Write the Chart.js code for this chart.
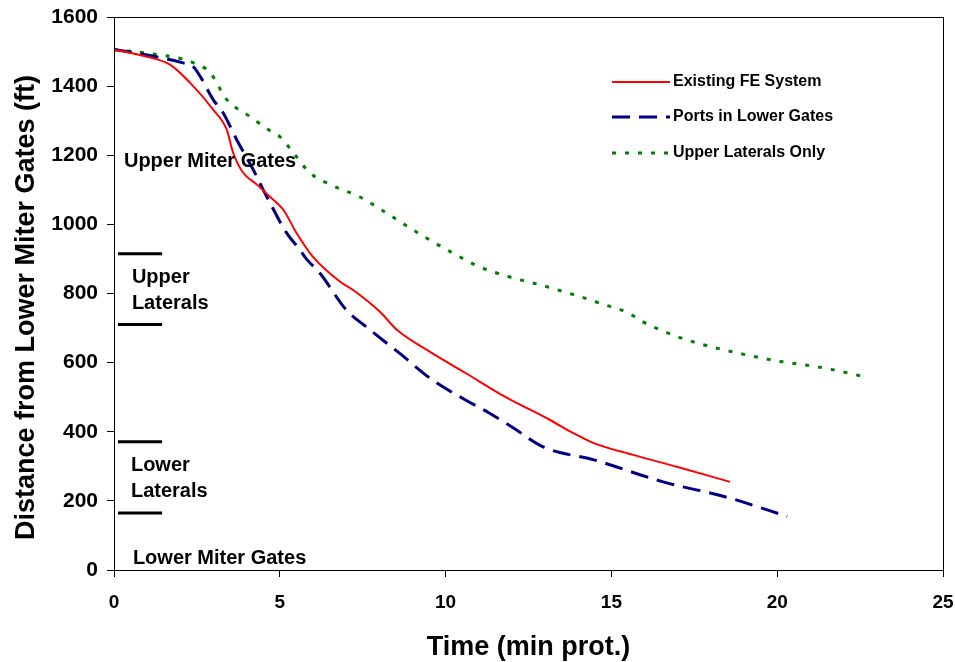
<!DOCTYPE html>
<html>
<head>
<meta charset="utf-8">
<script src="https://cdn.jsdelivr.net/npm/chart.js@4.4.1/dist/chart.umd.min.js"></script>
<style>
  html, body { margin: 0; padding: 0; background: #fff; }
  #wrap { width: 955px; height: 662px; }
</style>
</head>
<body>
<div id="wrap"><canvas id="c" width="955" height="662"></canvas></div>
<script>
// ---- Data ----
const seriesNames = ['Existing FE System', 'Ports in Lower Gates', 'Upper Laterals Only'];

const existingTime = [0, 1.0, 1.69, 2.29, 2.99, 3.4, 3.59, 3.89, 4.31, 4.7, 5.1, 5.5, 6.0, 6.82, 7.2, 8.02, 8.53, 9.53, 10.6, 11.8, 13.15, 13.85, 14.45, 15.65, 17.0, 18.58];
const existingDist = [1506, 1485, 1462, 1410, 1332, 1274, 1208, 1150, 1115, 1080, 1043, 976, 906, 834, 811, 747, 695, 631, 570, 501, 434, 396, 368, 333, 298, 255];

const portsTime = [0, 1.0, 2.05, 2.38, 2.6, 2.99, 3.29, 3.7, 4.2, 4.5, 4.7, 5.2, 5.6, 5.82, 6.2, 7.0, 7.6, 8.6, 9.6, 10.6, 11.3, 12.0, 12.94, 14.5, 16.56, 18.5, 20.3];
const portsDist = [1506, 1490, 1468, 1457, 1428, 1361, 1323, 1245, 1158, 1100, 1063, 976, 927, 898, 860, 753, 704, 628, 550, 492, 455, 414, 356, 318, 255, 210, 155];

const upperTime = [0, 1.0, 2.0, 2.38, 2.9, 3.4, 4.1, 4.8, 5.0, 5.4, 5.9, 6.6, 7.4, 8.2, 9.0, 9.5, 10.2, 11.0, 12.0, 12.85, 14.35, 14.8, 15.2, 15.56, 15.95, 16.77, 17.58, 18.8, 20.0, 21.38, 22.65];
const upperDist = [1506, 1495, 1480, 1468, 1439, 1361, 1312, 1265, 1254, 1208, 1150, 1112, 1080, 1034, 985, 956, 918, 878, 846, 825, 782, 767, 756, 741, 718, 683, 657, 628, 605, 585, 559];

// Reference levels (ft) marked by short black lines, and the time span they cover
const levelDist = [915, 710, 371, 165];
const levelTime = [0.12, 1.45];

// Axis ticks and titles
const xTicks = [0, 5, 10, 15, 20, 25];
const yTicks = [0, 200, 400, 600, 800, 1000, 1200, 1400, 1600];
const xTitle = 'Time (min prot.)';
const yTitle = 'Distance from Lower Miter Gates (ft)';

// Text labels placed in data space
const zoneLabels = [
  { lines: ['Upper Miter Gates'], t: 0.3, d: 1183 },
  { lines: ['Upper', 'Laterals'], t: 0.54, d: 808 },
  { lines: ['Lower', 'Laterals'], t: 0.51, d: 264 },
  { lines: ['Lower Miter Gates'], t: 0.57, d: 33 }
];

// ---- Build datasets ----
const pts = (xs, ys) => xs.map((x, i) => ({ x: x, y: ys[i] }));

const datasets = [
  { label: seriesNames[0], data: pts(existingTime, existingDist), borderColor: '#ff0000', borderWidth: 2, borderDash: [], cubicInterpolationMode: 'monotone' },
  { label: seriesNames[1], data: pts(portsTime, portsDist), borderColor: '#000080', borderWidth: 3, borderDash: [18, 9], cubicInterpolationMode: 'monotone' },
  { label: seriesNames[2], data: pts(upperTime, upperDist), borderColor: '#008000', borderWidth: 3, borderDash: [4, 9], cubicInterpolationMode: 'monotone' }
];
levelDist.forEach(v => {
  datasets.push({ label: '', isLevel: true, data: levelTime.map(t => ({ x: t, y: v })), borderColor: '#000', borderWidth: 3, borderDash: [] });
});
datasets.forEach(ds => { ds.pointRadius = 0; ds.fill = false; ds.backgroundColor = ds.borderColor; });

const sans = "'Liberation Sans', Arial, sans-serif";

const framePlugin = {
  id: 'frame',
  afterDatasetsDraw(chart) {
    const { ctx, chartArea: a } = chart;
    ctx.save();
    ctx.strokeStyle = '#000';
    ctx.lineWidth = 1;
    ctx.strokeRect(a.left + 0.5, a.top + 0.5, a.right - a.left, a.bottom - a.top);
    ctx.restore();
  }
};

const labelPlugin = {
  id: 'labels',
  afterDraw(chart) {
    const { ctx } = chart;
    const xs = chart.scales.x, ys = chart.scales.y;
    const a = chart.chartArea;
    ctx.save();
    ctx.fillStyle = '#000';
    ctx.font = 'bold 20px ' + sans;
    ctx.textBaseline = 'middle';
    ctx.textAlign = 'left';
    zoneLabels.forEach(z => {
      const px = xs.getPixelForValue(z.t);
      const py = ys.getPixelForValue(z.d);
      const lh = 26;
      const n = z.lines.length;
      z.lines.forEach((s, i) => {
        ctx.fillText(s, px, py + (i - (n - 1) / 2) * lh);
      });
    });
    // legend
    const lx0 = a.left + 498, lx1 = a.left + 556, tx = a.left + 559;
    const rows = [82, 117, 153];
    ctx.font = 'bold 16px ' + sans;
    chart.data.datasets.filter(d => !d.isLevel).forEach((ds, i) => {
      const y = rows[i];
      ctx.strokeStyle = ds.borderColor;
      ctx.lineWidth = ds.borderWidth;
      ctx.setLineDash(ds.borderDash || []);
      ctx.beginPath();
      ctx.moveTo(lx0, y);
      ctx.lineTo(lx1, y);
      ctx.stroke();
      ctx.setLineDash([]);
      ctx.fillStyle = '#000';
      ctx.fillText(ds.label, tx, y);
    });
    // y axis title
    ctx.save();
    ctx.translate(27, (a.top + a.bottom) / 2 + 14);
    ctx.rotate(-Math.PI / 2);
    ctx.textAlign = 'center';
    ctx.font = 'bold 27px ' + sans;
    ctx.fillText(yTitle, 0, 0);
    ctx.restore();
    ctx.restore();
  }
};

new Chart(document.getElementById('c'), {
  type: 'line',
  data: { datasets: datasets },
  plugins: [framePlugin, labelPlugin],
  options: {
    responsive: false,
    animation: false,
    layout: { padding: { top: 17, right: 12, left: 0, bottom: 0 } },
    plugins: { legend: { display: false }, tooltip: { enabled: false } },
    scales: {
      x: {
        type: 'linear', min: 0, max: 25,
        afterBuildTicks: s => { s.ticks = xTicks.map(v => ({ value: v })); },
        afterFit: s => { s.height = 92; s.paddingLeft = 0; s.paddingRight = 0; },
        ticks: { color: '#000', font: { family: sans, weight: 'bold', size: 19 }, padding: 14, maxRotation: 0, callback: v => String(v) },
        grid: { drawOnChartArea: false, drawTicks: true, tickLength: 7, color: '#000', lineWidth: 1 },
        border: { display: true, color: '#000', width: 1 },
        title: { display: true, text: xTitle, color: '#000', font: { family: sans, weight: 'bold', size: 27, lineHeight: 1 }, padding: { top: 0, bottom: 1 } }
      },
      y: {
        type: 'linear', min: 0, max: 1600,
        afterBuildTicks: s => { s.ticks = yTicks.map(v => ({ value: v })); },
        afterFit: s => { s.width = 114; s.paddingTop = 0; s.paddingBottom = 0; },
        ticks: { color: '#000', font: { family: sans, weight: 'bold', size: 21 }, padding: 9, callback: v => String(v) },
        grid: { drawOnChartArea: false, drawTicks: true, tickLength: 7, color: '#000', lineWidth: 1 },
        border: { display: true, color: '#000', width: 1 },
        title: { display: false }
      }
    }
  }
});
</script>
</body>
</html>
